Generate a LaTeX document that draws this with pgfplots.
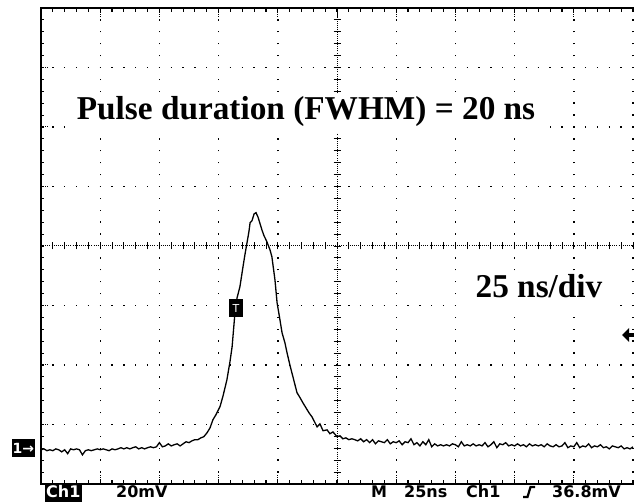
\documentclass[border=0pt]{standalone}
\usepackage{pgfplots}
\pgfplotsset{compat=1.18}
\usepackage{fontspec}
\setmainfont{Liberation Serif}
\newfontfamily\oscfont{DejaVu Sans}
\begin{document}
\begin{tikzpicture}[x=1pt,y=1pt]
% ---- oscilloscope graticule (screen: x 41..633, y 18..494) ----
\foreach \i in {1,2,3,4,6,7,8,9}{
  \draw[line width=1.4pt, dash pattern=on 1.4pt off 10.5pt, dash phase=0.7pt]
    ({41+59.2*\i},18) -- ({41+59.2*\i},494.5);
}
\draw[line width=1.4pt, dash pattern=on 1.4pt off 10.5pt, dash phase=0.7pt] (633,18) -- (633,494.5);
\foreach \j in {1,2,3,5,6,7}{
  \draw[line width=1.4pt, dash pattern=on 1.4pt off 10.44pt, dash phase=0.7pt]
    (41,{18+59.5*\j}) -- (634,{18+59.5*\j});
}
\draw[line width=1.0pt, dash pattern=on 0.9pt off 1.2pt] (337,18) -- (337,494);
\draw[line width=1.0pt, dash pattern=on 0.9pt off 1.2pt] (41,256) -- (634,256);
\foreach \k in {0,...,40}{
  \draw[line width=0.9pt] (333.5,{18+11.9*\k}) -- (340.5,{18+11.9*\k});
}
\foreach \k in {0,...,50}{
  \draw[line width=0.9pt] ({41+11.84*\k},252.5) -- ({41+11.84*\k},259.5);
}
\foreach \k in {1,...,50}{
  \draw[line width=1.1pt] ({41+11.84*\k},494) -- ({41+11.84*\k},490);
  \draw[line width=1.1pt] ({41+11.84*\k},18) -- ({41+11.84*\k},22);
}
\foreach \k in {1,...,39}{
  \draw[line width=1.1pt] (41,{18+11.9*\k}) -- (44,{18+11.9*\k});
}
\foreach \i in {1,...,9}{
  \draw[line width=1.0pt, dash pattern=on 0.9pt off 1.2pt] ({41+59.2*\i},494) -- ({41+59.2*\i},484);
  \draw[line width=1.0pt, dash pattern=on 0.9pt off 1.2pt] ({41+59.2*\i},18) -- ({41+59.2*\i},28);
}
\foreach \j in {1,...,7}{
  \draw[line width=1.0pt, dash pattern=on 0.9pt off 1.2pt] (41,{18+59.5*\j}) -- (49,{18+59.5*\j});
}
\draw[line width=1.8pt] (634,494) -- (41,494) -- (41,18) -- (634,18);
% white patches behind the annotations
\fill[white] (65,369) rectangle (550,407);
\fill[white] (462,190) rectangle (610,229);

% ---- the trace ----
\begin{axis}[at={(41pt,18pt)}, anchor=south west, scale only axis,
  width=592pt, height=476pt, hide axis, clip=false,
  xmin=0, xmax=250, ymin=-11.5, ymax=148.5]
\addplot[black, line width=1.3pt] coordinates {
(0,0.0) (1.25,0.3) (2.5,-0.3) (3.75,0.0) (5,-0.3) (6.25,0.3) (7.5,0.0) (8.75,-0.7)
(10,0.0) (11.25,-1.3) (12.5,0.3) (13.75,0.0) (15,0.3) (16.25,0.0) (17.5,-1.7) (18.75,-0.3)
(20,0.0) (21.25,-0.3) (22.5,0.0) (23.75,0.3) (25,0.0) (26.25,0.3) (27.5,0.0) (28.75,-0.3)
(30,0.3) (31.25,0.0) (32.5,0.3) (33.75,0.7) (35,0.3) (36.25,0.7) (37.5,0.3) (38.75,0.7)
(40,1.0) (41.25,0.3) (42.5,0.7) (43.75,0.3) (45,0.7) (46.25,1.0) (47.5,0.7) (48.75,1.0)
(50,2.4) (51.25,1.0) (52.5,1.3) (53.75,2.0) (55,1.3) (56.25,1.7) (57.5,2.0) (58.75,1.3)
(60,2.0) (61.25,2.7) (62.5,2.4) (63.75,3.0) (65,3.4) (66.25,3.4) (67.5,4.0) (68.75,4.4)
(70.1,5.7) (71.4,7.4) (72.6,10.1) (73.9,11.8) (75.6,14.5) (76.9,18.2) (78.5,23.5)
(79.8,29.6) (80.7,34.6) (81.9,46.0) (82.8,51.1) (84.0,54.8) (85.3,61.5) (86.1,65.5)
(87.0,69.6) (87.8,73.3) (88.3,76.3) (89.1,77.0) (90.0,79.3) (90.8,79.7) (91.6,78.3)
(92.5,76.0) (93.3,73.9) (94.2,71.9) (95.0,70.6) (95.4,69.9) (96.7,67.2) (97.5,64.9)
(98.8,57.1) (99.7,49.4) (100.9,43.7) (101.8,39.3) (103.0,36.0) (103.9,32.6) (105.2,28.2)
(106.4,24.5) (108.1,19.2) (109.4,17.5) (110.6,15.8) (111.9,14.1) (113.2,12.4) (114.4,11.1)
(115.7,9.1) (116.6,7.7) (117.8,8.7) (119.1,6.4) (120.8,6.7) (122.0,5.4) (123.3,6.0) (125.0,4.4)
(126.25,4.7) (127.5,3.7) (128.75,4.0) (130,3.4) (131.25,3.7) (132.5,3.4) (133.75,3.0)
(135,3.7) (136.25,2.7) (137.5,3.4) (138.75,2.4) (140,3.4) (141.25,2.0) (142.5,3.0) (143.75,2.7)
(145,2.4) (146.25,3.4) (147.5,2.0) (148.75,2.7) (150,2.4) (151.25,3.0) (152.5,1.7) (153.75,2.7)
(155,2.4) (156.25,3.7) (157.5,1.7) (158.75,2.4) (160,1.3) (161.25,2.7) (162.5,1.7) (163.75,3.4)
(165,1.0) (166.25,2.0) (167.5,1.3) (168.75,1.7) (170,1.3) (171.25,1.7) (172.5,1.3) (173.75,2.0)
(175,1.7) (176.25,1.0) (177.5,2.7) (178.75,1.3) (180,1.7) (181.25,1.3) (182.5,2.0) (183.75,1.3)
(185,1.7) (186.25,1.3) (187.5,2.4) (188.75,1.0) (190,1.7) (191.25,2.7) (192.5,0.7) (193.75,2.0)
(195,1.7) (196.25,2.4) (197.5,1.3) (198.75,1.7) (200,1.3) (201.25,2.0) (202.5,1.3) (203.75,1.7)
(205,1.0) (206.25,2.0) (207.5,1.3) (208.75,1.7) (210,1.3) (211.25,1.7) (212.5,1.0) (213.75,2.0)
(215,1.3) (216.25,1.0) (217.5,1.7) (218.75,1.0) (220,1.3) (221.25,2.4) (222.5,0.7) (223.75,1.3)
(225,1.0) (226.25,2.4) (227.5,0.7) (228.75,1.3) (230,1.0) (231.25,2.0) (232.5,0.7) (233.75,1.3)
(235,1.0) (236.25,1.7) (237.5,0.7) (238.75,1.0) (240,0.3) (241.25,1.3) (242.5,1.0) (243.75,0.7)
(245,1.3) (246.25,0.3) (247.5,0.7) (248.75,0.3) (250,1.0)
};
\end{axis}

% ---- annotations ----
\node[anchor=base, inner sep=0pt, font=\bfseries\fontsize{33.3}{36}\selectfont] at (306,382) {Pulse duration (FWHM) = 20 ns};
\node[anchor=base, inner sep=0pt, font=\bfseries\fontsize{33.3}{36}\selectfont] at (539,204) {25 ns/div};

\fill[black] (229,185) rectangle (243,203);
\node[text=white, inner sep=0pt, font=\oscfont\fontsize{11}{12}\selectfont] at (236,194) {T};
\fill[black] (12,45) rectangle (35,63);
\node[text=white, inner sep=0pt, anchor=west, font=\oscfont\bfseries\fontsize{14}{15}\selectfont] at (12.5,54) {1→};
\fill[black] (622,167) -- (629,174) -- (629,160) -- cycle;
\fill[black] (628,165) rectangle (634,169);

% ---- status bar ----
\fill[black] (45,0) rectangle (82,18);
\node[text=white, anchor=base west, inner sep=0pt, font=\oscfont\bfseries\fontsize{16}{17}\selectfont] at (46,4) {Ch1};
\node[anchor=base west, inner sep=0pt, font=\oscfont\bfseries\fontsize{16}{17}\selectfont] at (116,4) {20mV};
\node[anchor=base west, inner sep=0pt, font=\oscfont\bfseries\fontsize{16}{17}\selectfont] at (371,4) {M};
\node[anchor=base west, inner sep=0pt, font=\oscfont\bfseries\fontsize{16}{17}\selectfont] at (404,4) {25ns};
\node[anchor=base west, inner sep=0pt, font=\oscfont\bfseries\fontsize{16}{17}\selectfont] at (466,4) {Ch1};
\draw[line width=2.2pt] (523,5) -- (527.5,5) -- (530.5,15) -- (535,15);
\node[anchor=base west, inner sep=0pt, font=\oscfont\bfseries\fontsize{16}{17}\selectfont] at (552,4) {36.8mV};

\pgfresetboundingbox
\path[use as bounding box] (0,0) rectangle (634,502);
\end{tikzpicture}
\end{document}
